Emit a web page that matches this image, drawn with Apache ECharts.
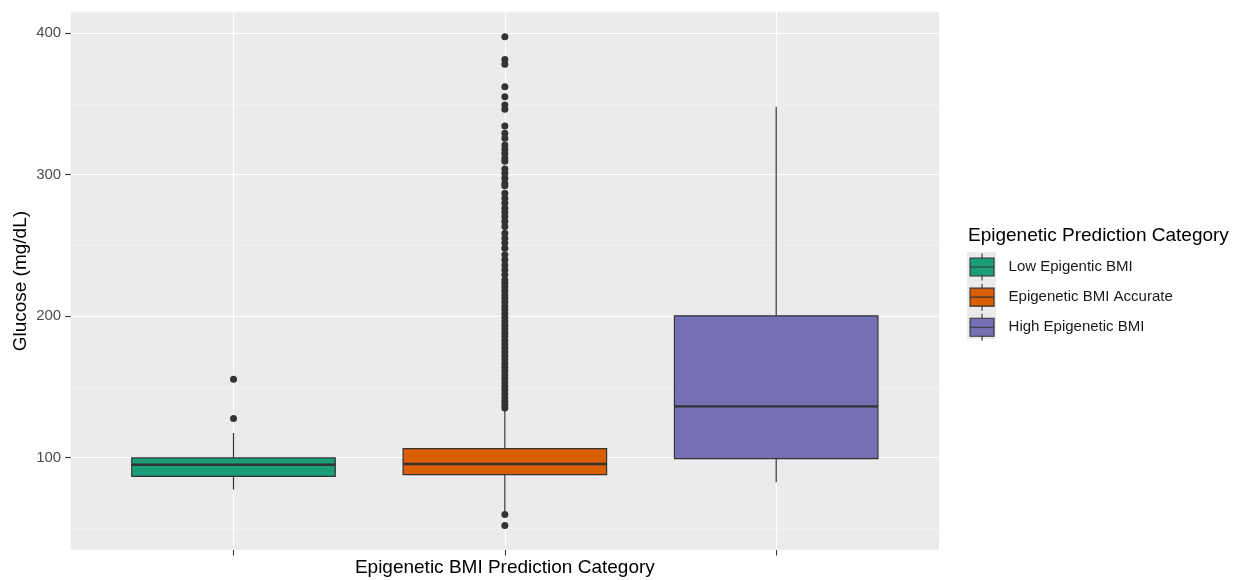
<!DOCTYPE html>
<html>
<head>
<meta charset="utf-8">
<script src="https://cdn.jsdelivr.net/npm/echarts@6/dist/echarts.min.js"></script>
<style>
  html, body { margin: 0; padding: 0; background: #ffffff; }
  #chart { width: 1236px; height: 580px; }
</style>
</head>
<body>
<div id="chart"></div>
<script>
// ---- Data ----
const categories = ['Low Epigentic BMI', 'Epigenetic BMI Accurate', 'High Epigenetic BMI'];
const colors = ['#1B9E77', '#D95F02', '#7570B3'];
// box statistics per category: lower whisker, Q1, median, Q3, upper whisker
const whiskerLow = [77.4, 62.0, 82.6];
const q1Values = [86.8, 88.0, 99.3];
const medianValues = [95.0, 95.5, 136.2];
const q3Values = [99.8, 106.4, 200.2];
const whiskerHigh = [117.4, 133.5, 348.0];
// outliers per category
const outliersLow = [127.7, 155.3];
const outliersAccurate = [
  52.0, 59.8,
  135.0, 137.2, 139.9, 142.1, 145.0, 147.8, 150.3, 153.1, 155.8, 158.4, 161.2, 163.9,
  166.5, 169.3, 172.0, 174.6, 177.4, 180.1, 182.8, 185.5, 188.1, 190.9, 193.6, 196.2,
  199.0, 201.7, 204.4, 207.0, 209.8, 212.5, 215.1, 217.9, 220.6, 223.2, 225.6, 229.2,
  232.7, 236.2, 239.8, 243.3, 248.0, 251.6, 255.1, 258.6, 263.3, 266.8, 270.3, 273.4,
  276.2, 279.8, 283.3, 286.8, 292.2, 293.9, 297.4, 301.0, 304.0, 309.4, 311.5, 315.0,
  317.8, 320.9, 325.7, 329.2, 334.3, 346.1, 349.2, 355.0, 362.1, 377.9, 381.4, 397.4
];
const outliersHigh = [];
const yTickValues = [100, 200, 300, 400];
const yMinorValues = [50, 150, 250, 350];

const outlierLists = [outliersLow, outliersAccurate, outliersHigh];
const positions = categories.map((c, i) => i + 1);
const BOX_WIDTH = 0.75;
const FONT = 'Liberation Sans, Arial, Helvetica, sans-serif';

function renderBox(params, api) {
  const x = api.value(0);
  const lo = api.coord([x, api.value(1)]);
  const q1 = api.coord([x, api.value(2)]);
  const med = api.coord([x, api.value(3)]);
  const q3 = api.coord([x, api.value(4)]);
  const hi = api.coord([x, api.value(5)]);
  const half = api.size([BOX_WIDTH, 0])[0] / 2;
  const color = api.visual('color');
  const stroke = '#333333';
  return {
    type: 'group',
    children: [
      { type: 'line', shape: { x1: lo[0], y1: lo[1], x2: q1[0], y2: q1[1] }, style: { stroke, lineWidth: 1.2 } },
      { type: 'line', shape: { x1: q3[0], y1: q3[1], x2: hi[0], y2: hi[1] }, style: { stroke, lineWidth: 1.2 } },
      { type: 'rect', shape: { x: q3[0] - half, y: q3[1], width: 2 * half, height: q1[1] - q3[1] },
        style: { fill: color, stroke, lineWidth: 1.2 } },
      { type: 'line', shape: { x1: med[0] - half, y1: med[1], x2: med[0] + half, y2: med[1] },
        style: { stroke, lineWidth: 2.4 } }
    ]
  };
}

const boxSeries = categories.map((name, i) => ({
  name: name,
  type: 'custom',
  renderItem: renderBox,
  itemStyle: { color: colors[i] },
  encode: { x: 0, y: [1, 2, 3, 4, 5] },
  data: [[positions[i], whiskerLow[i], q1Values[i], medianValues[i], q3Values[i], whiskerHigh[i]]],
  z: 2
}));

const outlierData = [];
outlierLists.forEach((list, i) => list.forEach(v => outlierData.push([positions[i], v])));

const keyIcon = 'path://M0,0 M36,29 M2.5,5.5 L26.5,5.5 L26.5,23.5 L2.5,23.5 Z M2.5,14.5 L26.5,14.5 M14.5,1 L14.5,5.5 M14.5,23.5 L14.5,28';

const chart = echarts.init(document.getElementById('chart'), null, { renderer: 'canvas' });
chart.setOption({
  animation: false,
  backgroundColor: '#ffffff',
  textStyle: { fontFamily: FONT },
  title: {
    text: 'Epigenetic Prediction Category',
    left: 968, top: 226,
    padding: 0,
    textStyle: { fontFamily: FONT, fontSize: 19, fontWeight: 'normal', color: '#000000' }
  },
  graphic: [
    { type: 'rect', left: 967, top: 252, shape: { width: 29, height: 87 }, style: { fill: '#ebebeb' }, z: -1 }
  ],
  legend: {
    orient: 'vertical',
    left: 967, top: 252,
    padding: 0,
    itemGap: 0,
    itemWidth: 36, itemHeight: 29,
    selectedMode: false,
    textStyle: { fontFamily: FONT, fontSize: 15, color: '#1a1a1a' },
    data: categories.map((name, i) => ({
      name: name,
      icon: keyIcon,
      itemStyle: { color: colors[i], borderColor: '#333333', borderWidth: 1.1 }
    }))
  },
  grid: {
    left: 70.7, right: 297, top: 12.3, bottom: 30,
    outerBoundsMode: 'none',
    containLabel: false,
    show: true, backgroundColor: '#ebebeb', borderWidth: 0
  },
  xAxis: {
    type: 'value',
    min: 0.4, max: 3.6,
    name: 'Epigenetic BMI Prediction Category',
    nameLocation: 'middle',
    nameGap: 8,
    nameMoveOverlap: false,
    nameTextStyle: { fontFamily: FONT, fontSize: 19, color: '#000000', verticalAlign: 'top' },
    axisLine: { show: false },
    axisTick: { show: true, length: 5.5, lineStyle: { color: '#333333', width: 1.1 }, customValues: positions },
    axisLabel: { show: false },
    splitLine: { show: true, lineStyle: { color: '#ffffff', width: 1.1 } }
  },
  yAxis: [
    {
      type: 'value',
      min: 34.7, max: 414.7,
      name: 'Glucose (mg/dL)',
      nameLocation: 'middle',
      nameGap: 40,
      nameMoveOverlap: false,
      nameTextStyle: { fontFamily: FONT, fontSize: 19, color: '#000000' },
      axisLine: { show: false },
      axisTick: { show: true, length: 5.5, lineStyle: { color: '#333333', width: 1.1 }, customValues: yTickValues },
      axisLabel: { show: true, margin: 9.5, fontFamily: FONT, fontSize: 15, color: '#4d4d4d', customValues: yTickValues },
      splitLine: { show: true, lineStyle: { color: '#ffffff', width: 1.1 } },
      z: 1
    },
    {
      type: 'value',
      min: 34.7, max: 414.7,
      position: 'left',
      axisLine: { show: false },
      axisTick: { show: false, customValues: yMinorValues },
      axisLabel: { show: false },
      splitLine: { show: true, lineStyle: { color: '#f5f5f5', width: 0.6 } },
      z: 0
    }
  ],
  series: boxSeries.concat([{
    type: 'scatter',
    data: outlierData,
    symbolSize: 7,
    itemStyle: { color: '#333333', opacity: 1 },
    z: 3,
    silent: true
  }])
});
</script>
</body>
</html>
